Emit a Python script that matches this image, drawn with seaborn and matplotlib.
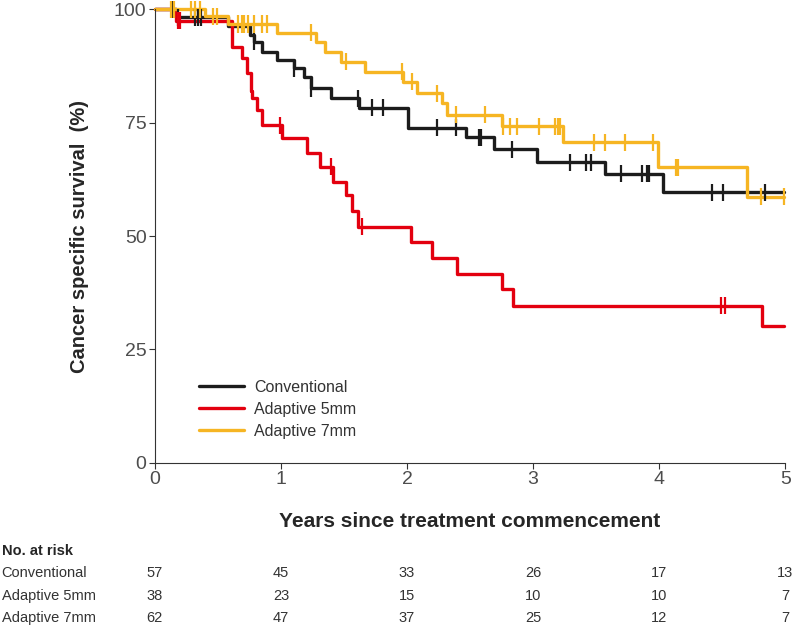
import numpy as np
import pandas as pd
import matplotlib
matplotlib.use("Agg")
import matplotlib.pyplot as plt
import matplotlib.transforms as mtransforms
import seaborn as sns

# step curves: event time (years) and survival (%) after the drop
conv_time = [0, 0.17, 0.58, 0.755, 0.79, 0.85, 0.97, 1.10, 1.18, 1.24, 1.40, 1.62, 2.005, 2.47, 2.69, 3.03, 3.57, 4.03, 4.99]
conv_surv = [100, 98.2, 96.3, 94.3, 92.8, 90.6, 88.8, 86.9, 85.1, 82.5, 80.3, 78.3, 73.9, 71.7, 69.1, 66.2, 63.7, 59.6, 59.6]
conv_cens = [0.14, 0.18, 0.32, 0.34, 0.37, 0.79, 1.10, 1.24, 1.61, 1.72, 1.81, 2.24, 2.39, 2.57, 2.59,
             2.83, 3.29, 3.42, 3.46, 3.70, 3.86, 3.90, 3.92, 4.42, 4.51, 4.84]

a5_time = [0, 0.17, 0.61, 0.69, 0.73, 0.76, 0.77, 0.81, 0.85, 1.005, 1.21, 1.31, 1.415, 1.52, 1.56, 1.61,
           2.03, 2.20, 2.40, 2.75, 2.84, 4.815, 4.99]
a5_surv = [100, 97.4, 91.7, 89.1, 85.8, 82.0, 80.3, 77.8, 74.4, 71.5, 68.2, 65.3, 62.0, 59.0, 55.4, 52.0,
           48.6, 45.1, 41.6, 38.3, 34.6, 30.2, 30.2]
a5_cens = [0.18, 0.20, 0.99, 1.40, 1.64, 4.49, 4.52]

a7_time = [0, 0.40, 0.58, 0.97, 1.28, 1.35, 1.48, 1.67, 1.97, 2.08, 2.275, 2.32, 2.75, 3.24, 3.99, 4.70, 4.99]
a7_surv = [100, 98.4, 96.7, 94.8, 92.8, 90.6, 88.4, 86.2, 84.0, 81.4, 79.2, 76.7, 74.2, 70.6, 65.1, 58.7, 58.7]
a7_cens = [0.13, 0.15, 0.29, 0.32, 0.36, 0.46, 0.49, 0.66, 0.69, 0.71, 0.74, 0.79, 0.85, 0.89, 1.24, 1.52,
           1.96, 2.04, 2.24, 2.39, 2.62, 2.76, 2.82, 2.87, 3.05, 3.17, 3.20, 3.21, 3.48, 3.57, 3.73, 3.95,
           4.13, 4.15, 4.81, 4.99]

groups = ["Conventional", "Adaptive 5mm", "Adaptive 7mm"]
colors = ["#1c1c1c", "#e3000f", "#f6b523"]

risk_times = [0, 1, 2, 3, 4, 5]
risk_conv = [57, 45, 33, 26, 17, 13]
risk_a5 = [38, 23, 15, 10, 10, 7]
risk_a7 = [62, 47, 37, 25, 12, 7]

curves = [(conv_time, conv_surv, conv_cens), (a5_time, a5_surv, a5_cens), (a7_time, a7_surv, a7_cens)]
steps = []
marks = []
for g, (t, s, c) in zip(groups, curves):
    steps.append(pd.DataFrame({"time": t, "surv": s, "group": g}))
    idx = np.searchsorted(t, c, side="right") - 1
    marks.append(pd.DataFrame({"time": c, "surv": np.array(s)[idx], "group": g}))
steps = pd.concat(steps, ignore_index=True)
marks = pd.concat(marks, ignore_index=True)

sns.set_style("ticks")
plt.rcParams["font.family"] = ["Liberation Sans", "DejaVu Sans"]

fig, ax = plt.subplots(figsize=(7.94, 6.26), dpi=100)
fig.subplots_adjust(left=0.195, right=0.989, bottom=0.2604, top=0.9856)

pal = dict(zip(groups, colors))
sns.lineplot(data=steps, x="time", y="surv", hue="group", hue_order=groups, palette=pal,
             drawstyle="steps-post", estimator=None, sort=False, linewidth=2.4, ax=ax,
             legend=False, clip_on=False)
sns.scatterplot(data=marks, x="time", y="surv", hue="group", hue_order=groups, palette=pal,
                marker="|", s=150, linewidth=1.6, ax=ax, legend=False, clip_on=False, zorder=3)

ax.set_xlim(0, 5)
ax.set_ylim(0, 100)
ax.set_xticks(risk_times)
ax.set_yticks([0, 25, 50, 75, 100])
ax.tick_params(labelsize=14, labelcolor="#4d4d4d", length=4, width=0.8, color="#333333", pad=2)
for sp in ["left", "bottom"]:
    ax.spines[sp].set_linewidth(0.8)
    ax.spines[sp].set_color("#333333")
sns.despine(ax=ax)

ax.set_xlabel("Years since treatment commencement", fontsize=15, fontweight="bold", labelpad=17)
ax.set_ylabel("Cancer specific survival  (%)", fontsize=14.5, fontweight="bold", labelpad=18)

handles = ax.get_lines()[:3]
ax.legend(handles, groups, loc="lower left", bbox_to_anchor=(0.048, 0.021), frameon=False,
          fontsize=11.5, handlelength=2.8, handletextpad=0.6, labelspacing=0.45, labelcolor="#333333")

# number at risk table under the axes
trans = mtransforms.blended_transform_factory(ax.transData, fig.transFigure)
fig.text(0.002, 1 - 551 / 626, "No. at risk", fontsize=10.5, fontweight="bold", va="center", ha="left")
for row, (g, vals) in enumerate(zip(groups, [risk_conv, risk_a5, risk_a7])):
    y = 1 - (573 + 22.7 * row) / 626
    fig.text(0.002, y, g, fontsize=10.5, va="center", ha="left", color="#333333")
    for t, v in zip(risk_times, vals):
        ax.text(t, y, str(v), transform=trans, fontsize=10.5, va="center", ha="center", color="#333333")

fig.savefig("out.png", dpi=100)
